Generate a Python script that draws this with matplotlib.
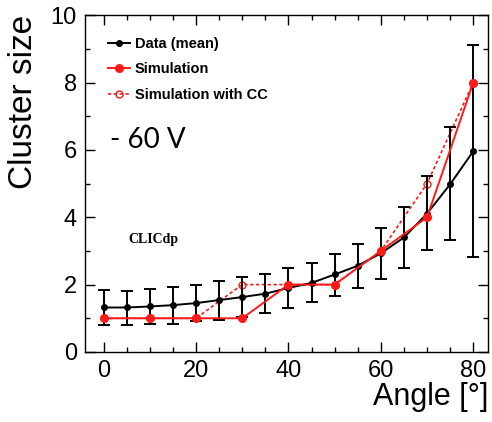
import matplotlib
matplotlib.use("Agg")
import matplotlib.pyplot as plt
from matplotlib.ticker import MultipleLocator
from matplotlib.lines import Line2D

plt.rcParams['font.family'] = ['Liberation Sans', 'DejaVu Sans']

# data (mean) with error bars
angle_data = [0, 5, 10, 15, 20, 25, 30, 35, 40, 45, 50, 55, 60, 65, 70, 75, 80]
size_data = [1.32, 1.32, 1.35, 1.39, 1.45, 1.54, 1.63, 1.73, 1.90, 2.05, 2.30, 2.56, 2.93, 3.40, 4.11, 4.98, 5.96]
err_up = [1.83, 1.82, 1.87, 1.92, 1.99, 2.11, 2.22, 2.31, 2.48, 2.63, 2.92, 3.22, 3.67, 4.31, 5.22, 6.68, 9.11]
err_low = [0.81, 0.81, 0.84, 0.84, 0.91, 0.96, 1.05, 1.15, 1.31, 1.47, 1.66, 1.91, 2.18, 2.50, 3.02, 3.31, 2.81]

# simulation
angle_sim = [0, 10, 20, 30, 40, 50, 60, 70, 80]
size_sim = [1, 1, 1, 1, 2, 2, 3, 4, 8]
size_sim_cc = [1, 1, 1, 2, 2, 2, 3, 5, 8]

red = '#ff1a1a'
yerr = [[m - lo for m, lo in zip(size_data, err_low)],
        [hi - m for m, hi in zip(size_data, err_up)]]

fig = plt.figure(figsize=(4.92, 4.22), dpi=100)
ax = fig.add_axes([0.173, 0.166, 0.819, 0.798])

ax.errorbar(angle_data, size_data, yerr=yerr, color='black', lw=1.4,
            marker='o', ms=4, capsize=4, capthick=1.4, elinewidth=1.4, zorder=3)
ax.plot(angle_sim, size_sim, color=red, lw=1.4, marker='o', ms=5.5, zorder=4)
ax.plot(angle_sim, size_sim_cc, color=red, lw=1.2, ls=(0, (2, 1.5)),
        marker='o', ms=5, mfc='none', mec=red, mew=1, zorder=2)

ax.set_xlim(-4, 83.2)
ax.set_ylim(0, 10)
ax.xaxis.set_major_locator(MultipleLocator(20))
ax.xaxis.set_minor_locator(MultipleLocator(5))
ax.yaxis.set_major_locator(MultipleLocator(2))
ax.yaxis.set_minor_locator(MultipleLocator(1))
ax.tick_params(which='both', direction='in', top=True, right=True, width=1)
ax.tick_params(which='major', length=7.5, labelsize=17, pad=6)
ax.tick_params(which='minor', length=3.8)
for s in ax.spines.values():
    s.set_linewidth(1)

ax.set_xlabel('Angle [°]', fontsize=22, loc='right', labelpad=0)
ax.set_ylabel('Cluster size', fontsize=24, loc='top', labelpad=8)

ax.text(110 / 492, 1 - 140 / 422, '- 60 V', transform=fig.transFigure,
        fontsize=20, family='Lato', va='center', ha='left')
ax.text(128 / 492, 1 - 239 / 422, 'CLICdp', transform=fig.transFigure,
        fontsize=10, family='Liberation Serif', weight='bold', va='center', ha='left')

handles = [
    Line2D([], [], color='black', lw=1.4, marker='o', ms=4),
    Line2D([], [], color=red, lw=1.4, marker='o', ms=5.5),
    Line2D([], [], color=red, lw=1.2, ls=(0, (2, 1.5)), marker='o', ms=5,
           mfc='none', mec=red, mew=1),
]
labels = ['Data (mean)', 'Simulation', 'Simulation with CC']
ax.legend(handles, labels, loc='upper left', bbox_to_anchor=(0.025, 0.975),
          frameon=False, handlelength=1.5, handletextpad=0.3, labelspacing=0.8,
          prop={'weight': 'bold', 'size': 10.5})

fig.savefig('out.png', dpi=100)
